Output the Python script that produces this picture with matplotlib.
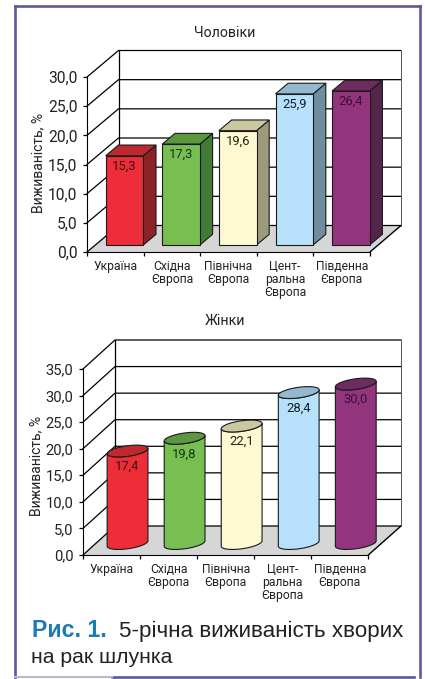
import numpy as np
import matplotlib
matplotlib.use("Agg")
import matplotlib.pyplot as plt
from matplotlib.patches import Polygon, Rectangle
from matplotlib.ticker import FuncFormatter

categories = ["Україна", "Східна\nЄвропа", "Північна\nЄвропа", "Цент-\nральна\nЄвропа", "Південна\nЄвропа"]
men_values = [15.3, 17.3, 19.6, 25.9, 26.4]
women_values = [17.4, 19.8, 22.1, 28.4, 30.0]
men_ticks = [0, 5, 10, 15, 20, 25, 30]
women_ticks = [0, 5, 10, 15, 20, 25, 30, 35]

front_colors = ["#ed2e38", "#78be50", "#fff9d2", "#b7e1fa", "#93357d"]
top_colors = ["#c0282f", "#5b9640", "#cbc7a0", "#93b9cf", "#6d2b60"]
side_colors = ["#8c2427", "#437a35", "#9d9a7c", "#6f8d9f", "#54254a"]
label_colors = ["#3a1015", "#12351a", "#222211", "#10202c", "#3a1035"]

W, H = 425, 679
plt.rcParams["font.family"] = ["Roboto", "DejaVu Sans"]


def comma(v):
    return f"{v:.1f}".replace(".", ",")


def make_panel(fig, left, base, front_right, back_right, top_tick_y, back_dx, back_dy, ticks, title, title_y,
               ylabel_x, tick_size):
    """Axes scaled so that x is category number and y is percent, front plane at x=0, y=0."""
    cat_w = (front_right - left) / len(categories)
    unit = (base - top_tick_y) / ticks[-1]
    back_top = top_tick_y - back_dy
    ax = fig.add_axes([left / W, 1 - base / H, (back_right - left) / W, (base - back_top) / H])
    ax.set_xlim(0, (back_right - left) / cat_w)
    ax.set_ylim(0, (base - back_top) / unit)
    ax.patch.set_visible(False)

    dx = back_dx / cat_w
    dy = back_dy / unit
    xmax = ax.get_xlim()[1]
    n = len(categories)

    # floor
    ax.add_patch(Polygon([(0, 0), (dx, dy), (xmax, dy), (n, 0)], fc="#d6d6d6", ec="none", zorder=1))
    ax.plot([n, xmax], [0, dy], color="black", lw=1, zorder=2)

    # walls
    for v in ticks:
        ax.plot([0, dx, xmax], [v, v + dy, v + dy], color="black", lw=0.9, zorder=2, clip_on=False)
    ax.plot([dx, dx], [dy, ticks[-1] + dy], color="black", lw=0.9, zorder=2, clip_on=False)
    ax.plot([xmax, xmax], [dy, ticks[-1] + dy], color="#555555", lw=0.7, zorder=2, clip_on=False)

    for s in ["top", "right"]:
        ax.spines[s].set_visible(False)
    ax.spines["left"].set_bounds(0, ticks[-1])
    ax.spines["bottom"].set_bounds(0, n)

    ax.set_yticks(ticks)
    ax.yaxis.set_major_formatter(FuncFormatter(lambda v, _: comma(v)))
    ax.tick_params(axis="y", length=3, width=0.9, pad=4, labelsize=tick_size, labelcolor="#222222")

    ax.set_xticks(np.arange(n + 1))
    ax.set_xticklabels([])
    ax.set_xticks(np.arange(n) + 0.5, categories, minor=True, fontsize=8.7, linespacing=1.0, color="#222222")
    ax.tick_params(axis="x", which="major", length=3, width=0.9)
    ax.tick_params(axis="x", which="minor", length=0, pad=6)

    fig.text(225 / W, 1 - title_y / H, title, ha="center", va="center", fontsize=10.2, color="#222222")
    fig.text(ylabel_x / W, 1 - (base - 89) / H, "Виживаність, %", rotation=90, ha="center", va="center",
             fontsize=10, color="#222222")
    return ax, cat_w, unit


def draw_box_bars(ax, values, cat_w, unit):
    shift = 9.2 / cat_w
    lift = 7 / unit
    half = 18.8 / cat_w
    side_x = 12.7 / cat_w
    side_y = 10.7 / unit
    for i, v in enumerate(values):
        x0 = i + 0.5 + shift - half
        x1 = i + 0.5 + shift + half
        y0 = lift
        y1 = lift + v
        edge = {"ec": "#1a1a1a", "lw": 0.8, "zorder": 3}
        ax.add_patch(Polygon([(x1, y0), (x1 + side_x, y0 + side_y), (x1 + side_x, y1 + side_y), (x1, y1)],
                             fc=side_colors[i], **edge))
        ax.add_patch(Polygon([(x0, y1), (x1, y1), (x1 + side_x, y1 + side_y), (x0 + side_x, y1 + side_y)],
                             fc=top_colors[i], **edge))
        ax.add_patch(Rectangle((x0, y0), x1 - x0, y1 - y0, fc=front_colors[i], **edge))
        ax.text((x0 + x1) / 2, y1 - 10.5 / unit, comma(v), ha="center", va="center", fontsize=9.4,
                color=label_colors[i], zorder=5)


def draw_cylinders(ax, values, cat_w, unit):
    shift = 16 / cat_w
    lift = 11.5 / unit
    a = 20.4 / cat_w
    b = 5.3 / unit
    tilt = 2.7 / unit
    t = np.linspace(0, 2 * np.pi, 90)
    for i, v in enumerate(values):
        cx = i + 0.5 + shift
        y0 = lift
        y1 = lift + v
        ex = cx + a * np.cos(t)
        ey = b * np.sin(t) + tilt * np.cos(t)
        lower = np.sin(t) <= 0
        order = np.argsort(ex[lower])
        # body: lower half of the base ellipse, then back along the lower half of the top one
        bx = ex[lower][order]
        by = ey[lower][order]
        body = np.column_stack([np.r_[bx, bx[::-1]], np.r_[by + y0, by[::-1] + y1]])
        ax.add_patch(Polygon(body, fc=front_colors[i], ec="#1a1a1a", lw=0.8, zorder=3))
        ax.add_patch(Polygon(np.column_stack([ex, ey + y1]), fc=top_colors[i], ec="#1a1a1a", lw=0.8, zorder=4))
        ax.text(cx, y1 - 15.5 / unit, comma(v), ha="center", va="center", fontsize=9.4,
                color=label_colors[i], zorder=5)


fig = plt.figure(figsize=(W / 100, H / 100), dpi=100, facecolor="white")

ax1, cw1, u1 = make_panel(fig, 87, 252, 370, 401, 77, 31.5, 26.5, men_ticks, "Чоловіки", 33, 38, 11.2)
draw_box_bars(ax1, men_values, cw1, u1)

ax2, cw2, u2 = make_panel(fig, 83, 555, 368.3, 401, 369, 32, 29, women_ticks, "Жінки", 321, 36, 10.6)
draw_cylinders(ax2, women_values, cw2, u2)

# frame round the figure
frame = "#5b5a9c"
lines = [([14.8, 14.8], [6, 679]), ([14.8, 419.8], [6, 6]), ([419.8, 419.8], [6, 677]), ([112, 414], [677, 677])]
for xs, ys in lines:
    fig.add_artist(plt.Line2D(np.array(xs) / W, 1 - np.array(ys) / H, color=frame, lw=1.9))
fig.add_artist(plt.Line2D(np.array([15, 112]) / W, 1 - np.array([677, 677]) / H, color="#b9b9d6", lw=1.5))

# caption
cap = ["Liberation Sans", "DejaVu Sans"]
fig.text(32 / W, 1 - 637 / H, "Рис. 1.", family=cap, fontsize=16.7, weight="bold", color="#1c7ab8", va="baseline")
fig.text(119 / W, 1 - 637 / H, "5-річна виживаність хворих", family=cap, fontsize=16.1, color="#222222", va="baseline")
fig.text(31 / W, 1 - 663 / H, "на рак шлунка", family=cap, fontsize=15.3, color="#222222", va="baseline")

fig.savefig("out.png", dpi=100)
